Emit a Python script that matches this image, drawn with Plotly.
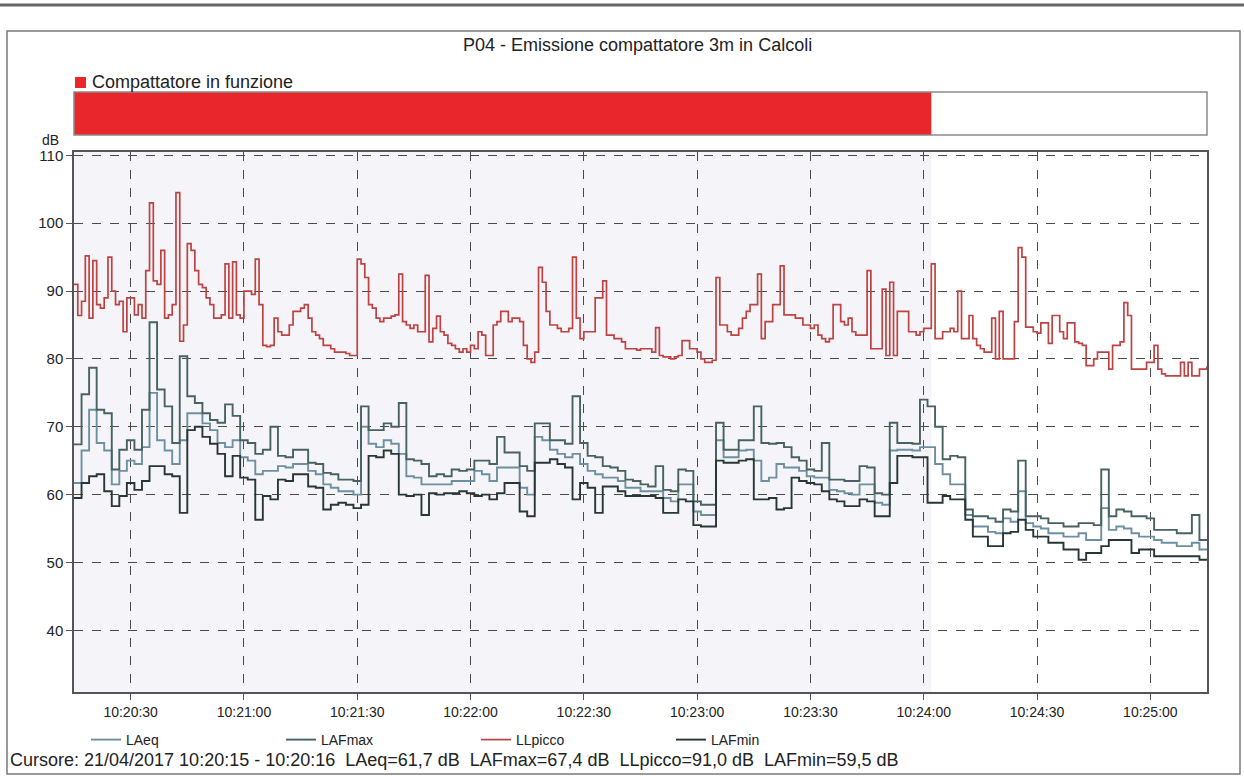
import pandas as pd
import plotly.graph_objects as go

# ---- data -------------------------------------------------------------
DAY = "2017-04-21"
START = f"{DAY} 10:20:15"
END = f"{DAY} 10:25:15"
RUN_START = f"{DAY} 10:20:15"   # compactor running interval
RUN_END = f"{DAY} 10:24:02"

# seconds after 10:20:15
sec_1s = list(range(0, 303))
sec_2s = list(range(0, 303, 2))

llpicco = [
    91.0, 86.4, 88.5, 95.2, 86.0, 94.5, 88.0, 87.5, 89.0, 95.0,
    90.0, 88.0, 88.5, 84.0, 89.0, 89.0, 86.5, 88.0, 86.0, 93.0,
    103.0, 91.5, 91.0, 96.0, 86.0, 86.5, 88.0, 104.5, 82.6, 85.0,
    97.0, 96.0, 93.0, 91.0, 90.5, 89.0, 88.0, 86.0, 86.0, 86.5,
    94.0, 86.0, 94.3, 86.5, 86.0, 90.0, 90.0, 89.5, 94.7, 88.0,
    82.0, 81.8, 82.0, 86.0, 84.0, 83.5, 83.5, 85.0, 87.0, 87.0,
    87.5, 88.0, 86.0, 84.0, 83.5, 83.0, 82.0, 82.0, 81.5, 81.0,
    81.0, 81.0, 80.8, 80.5, 80.5, 94.7, 94.0, 92.0, 88.0, 87.5,
    86.0, 85.5, 86.0, 86.0, 86.3, 86.5, 92.5, 85.5, 85.0, 84.5,
    85.0, 84.0, 84.0, 92.3, 82.5, 84.5, 86.3, 84.0, 83.5, 82.3,
    82.0, 81.5, 81.0, 81.5, 81.0, 82.0, 81.5, 84.0, 83.5, 80.5,
    80.5, 85.0, 85.5, 87.0, 87.0, 85.5, 86.0, 86.0, 85.5, 82.0,
    80.0, 79.5, 81.0, 93.5, 91.3, 87.0, 85.0, 85.0, 84.5, 84.0,
    84.0, 84.5, 95.0, 86.0, 83.0, 84.0, 84.0, 84.0, 89.0, 89.0,
    91.5, 83.5, 83.5, 83.0, 83.0, 82.5, 81.5, 81.5, 81.5, 81.3,
    81.5, 81.5, 81.5, 81.0, 84.6, 80.5, 80.3, 80.3, 80.0, 80.3,
    80.5, 82.7, 82.7, 81.5, 81.5, 81.0, 80.0, 79.5, 79.5, 79.8,
    92.0, 85.0, 85.0, 84.0, 83.5, 83.5, 84.5, 86.0, 87.0, 88.0,
    88.0, 92.5, 83.0, 85.5, 85.5, 88.0, 88.0, 93.7, 86.5, 86.5,
    86.5, 86.0, 86.0, 85.0, 85.0, 84.5, 85.0, 83.5, 83.0, 82.5,
    83.0, 88.0, 88.0, 85.5, 85.0, 86.0, 84.0, 83.5, 83.5, 83.5,
    93.0, 81.5, 81.5, 81.5, 90.3, 80.5, 91.3, 80.5, 87.0, 87.0,
    87.0, 84.0, 84.0, 83.5, 84.0, 84.5, 84.5, 94.0, 83.0, 83.0,
    84.0, 84.0, 84.5, 84.0, 90.0, 83.0, 83.0, 86.4, 83.0, 82.0,
    81.5, 81.0, 81.0, 86.0, 80.0, 87.0, 80.0, 80.0, 80.0, 85.5,
    96.4, 95.0, 84.7, 84.7, 84.0, 83.8, 85.3, 85.3, 82.3, 86.4,
    86.4, 84.0, 83.0, 85.3, 85.3, 82.5, 82.3, 82.0, 79.0, 79.0,
    80.0, 81.0, 81.0, 81.0, 78.5, 82.0, 82.0, 82.5, 88.3, 86.4,
    78.5, 78.5, 78.5, 78.5, 79.5, 79.5, 82.0, 78.5, 77.8, 77.5,
    77.5, 77.5, 77.5, 79.5, 77.5, 79.5, 77.5, 77.5, 78.5, 78.5,
    78.8, 78.5, 78.0,
]

lafmax = [
    67.4, 74.8, 78.7, 72.5, 72.0, 63.7, 66.6, 68.0, 66.6, 72.5,
    85.4, 75.5, 73.0, 67.6, 80.4, 74.5, 73.5, 72.0, 71.0, 70.6,
    73.3, 71.6, 68.0, 67.6, 66.0, 66.6, 70.0, 65.7, 65.5, 66.6,
    66.6, 64.7, 64.5, 63.2, 63.0, 62.2, 62.2, 62.0, 73.0, 69.5,
    69.5, 70.5, 70.0, 73.5, 65.2, 65.0, 64.5, 62.7, 63.0, 62.7,
    63.7, 63.5, 63.7, 65.0, 65.0, 64.5, 68.5, 66.2, 66.2, 64.2,
    63.5, 70.5, 70.5, 68.0, 68.0, 67.5, 74.5, 67.6, 65.7, 65.5,
    64.2, 64.0, 63.5, 62.2, 62.0, 61.5, 61.2, 64.2, 60.7, 60.5,
    63.7, 63.5, 59.0, 58.5, 58.5, 70.6, 66.6, 66.6, 68.0, 68.0,
    73.0, 67.6, 67.5, 67.6, 67.0, 65.5, 65.0, 63.7, 63.5, 67.6,
    62.2, 62.2, 62.0, 62.0, 64.2, 64.0, 60.2, 60.0, 70.6, 67.6,
    67.6, 67.5, 74.0, 73.0, 70.0, 65.2, 65.7, 65.5, 57.8, 56.8,
    56.8, 56.5, 56.0, 57.8, 57.5, 65.0, 56.8, 56.8, 56.5, 55.8,
    55.8, 55.3, 55.3, 55.8, 55.8, 55.5, 63.7, 56.8, 57.8, 57.5,
    56.8, 56.8, 56.5, 54.8, 54.8, 54.8, 54.3, 54.3, 57.0, 53.3,
    53.3, 53.0,
]

laeq = [
    61.7, 66.5, 72.5, 67.6, 66.5, 61.5, 63.5, 65.0, 64.5, 67.0,
    75.0, 68.0, 66.5, 64.5, 68.0, 72.0, 72.0, 70.5, 69.5, 67.6,
    67.0, 68.0, 65.5, 65.0, 63.0, 63.5, 63.5, 64.2, 64.0, 64.5,
    64.5, 63.5, 63.0, 61.5, 61.0, 60.5, 60.5, 60.0, 70.0, 67.5,
    67.0, 68.0, 67.5, 66.0, 62.7, 62.5, 61.5, 61.5, 61.5, 61.5,
    62.0, 62.0, 62.0, 63.5, 63.0, 62.0, 64.0, 64.0, 64.0, 61.0,
    60.0, 68.5, 68.0, 66.6, 66.0, 65.5, 66.0, 64.5, 63.5, 63.0,
    62.5, 62.5, 62.0, 61.0, 61.0, 60.5, 60.5, 60.5, 59.5, 59.0,
    61.5, 61.5, 57.5, 57.0, 57.0, 68.0, 65.5, 65.5, 66.5, 66.6,
    65.0, 62.0, 62.5, 64.5, 64.0, 64.0, 63.5, 62.7, 62.5, 62.5,
    60.7, 60.5, 60.2, 60.0, 61.5, 61.5, 58.8, 58.5, 66.5, 66.6,
    66.6, 66.5, 67.0, 67.0, 64.5, 63.0, 61.5, 61.5, 57.0, 55.3,
    55.3, 54.5, 54.3, 56.5, 56.0, 60.5, 55.8, 55.3, 55.0, 54.3,
    54.3, 53.8, 53.8, 54.3, 53.3, 53.3, 58.0, 54.8, 55.3, 55.0,
    54.3, 53.8, 53.8, 53.3, 52.9, 52.9, 52.4, 52.4, 52.9, 51.9,
    51.9, 51.9,
]

lafmin = [
    59.5, 61.7, 62.7, 63.0, 60.5, 58.3, 59.8, 61.7, 60.7, 62.0,
    64.2, 64.2, 63.0, 62.7, 57.3, 69.5, 70.0, 68.5, 67.5, 66.0,
    62.7, 65.7, 62.5, 62.2, 56.3, 59.8, 59.3, 62.2, 62.0, 63.0,
    63.0, 61.2, 61.0, 57.8, 58.5, 58.8, 58.5, 58.0, 58.5, 65.7,
    65.5, 66.5, 66.0, 60.0, 59.8, 60.0, 57.0, 60.2, 60.0, 60.2,
    60.2, 60.5, 60.2, 59.8, 60.0, 59.3, 60.2, 61.7, 61.7, 57.5,
    56.8, 64.7, 64.7, 65.2, 64.5, 64.0, 59.3, 61.7, 61.0, 57.3,
    61.2, 61.2, 60.5, 59.8, 59.8, 59.8, 59.8, 59.5, 57.3, 57.3,
    59.3, 59.0, 55.5, 55.3, 55.3, 65.0, 64.7, 64.7, 65.0, 65.2,
    59.3, 59.3, 59.5, 57.8, 58.0, 62.5, 62.0, 61.7, 61.5, 60.5,
    59.3, 59.0, 58.3, 58.3, 59.3, 59.0, 56.8, 56.8, 61.7, 65.7,
    65.7, 65.5, 65.5, 58.8, 58.8, 59.8, 59.3, 59.3, 56.3, 53.8,
    53.8, 52.4, 52.4, 54.3, 54.5, 56.3, 54.8, 53.8, 53.8, 52.9,
    52.9, 51.9, 51.9, 50.4, 51.4, 51.4, 52.4, 53.3, 53.3, 53.3,
    51.4, 51.9, 51.9, 50.9, 50.9, 50.9, 50.9, 50.9, 50.9, 50.4,
    50.4, 50.4,
]

tick_labels = ["10:20:30", "10:21:00", "10:21:30", "10:22:00", "10:22:30",
               "10:23:00", "10:23:30", "10:24:00", "10:24:30", "10:25:00"]
y_ticks = [40, 50, 60, 70, 80, 90, 100, 110]

# ---- helpers -----------------------------------------------------------
t0 = pd.Timestamp(START)
times_1s = [t0 + pd.Timedelta(seconds=s) for s in sec_1s]
times_2s = [t0 + pd.Timedelta(seconds=s) for s in sec_2s]
tick_vals = [f"{DAY} {s}" for s in tick_labels]

FONT = "Liberation Sans, Arial, sans-serif"
TXT = "#222222"

# plot area in pixels: left 74, right 1207, top 92, bottom 692
W, H = 1244, 776
L, R, T, B = 74, 37, 92, 84
PW, PH = W - L - R, H - T - B


def px(x):
    return (x - L) / PW


def py(y):
    return (H - B - y) / PH


fig = go.Figure()

# compactor-running bar (own x axis so no grid crosses it)
fig.add_trace(go.Scatter(
    x=[RUN_START, RUN_END, RUN_END, RUN_START, RUN_START],
    y=[0, 0, 1, 1, 0],
    fill="toself", fillcolor="#e8262b", mode="lines",
    line=dict(width=0), xaxis="x2", yaxis="y2",
    showlegend=False, hoverinfo="skip",
))

line_specs = [
    ("LAeq", times_2s, laeq, "#6d90a0", 1.9),
    ("LAFmax", times_2s, lafmax, "#476260", 1.9),
    ("LLpicco", times_1s, llpicco, "#bf4242", 1.7),
    ("LAFmin", times_2s, lafmin, "#293636", 1.9),
]
for name, xs, ys, color, w in line_specs:
    fig.add_trace(go.Scatter(
        x=xs, y=ys, name=name, mode="lines",
        line=dict(color=color, width=w, shape="hv"),
    ))

axis_common = dict(
    showgrid=True, gridcolor="#4a4a4a", gridwidth=1, griddash="dash",
    showline=True, mirror=True, linecolor="#555555", linewidth=1.5,
    ticks="outside", ticklen=6, tickcolor="#555555",
    zeroline=False,
)

fig.update_layout(
    width=W, height=H,
    margin=dict(l=L, r=R, t=T, b=B),
    paper_bgcolor="white", plot_bgcolor="white",
    font=dict(family=FONT, size=14, color=TXT),
    xaxis=dict(type="date", range=[START, END],
               tickvals=tick_vals, ticktext=tick_labels,
               tickfont=dict(family=FONT, size=14, color=TXT), **axis_common),
    yaxis=dict(domain=[0, py(152)], range=[30.9, 110.5],
               tickvals=y_ticks,
               tickfont=dict(family=FONT, size=15, color=TXT), **axis_common),
    xaxis2=dict(type="date", range=[START, END], matches="x",
                anchor="y2", visible=False, showgrid=False),
    yaxis2=dict(domain=[py(135), 1.0], range=[0, 1], visible=False,
                anchor="x2", fixedrange=True, showgrid=False),
    showlegend=True,
    legend=dict(orientation="h", x=px(86), xanchor="left",
                y=py(740), yanchor="middle",
                entrywidth=150, entrywidthmode="pixels",
                bgcolor="rgba(0,0,0,0)",
                font=dict(family=FONT, size=14, color=TXT)),
)

shapes = [
    # shaded running interval behind the curves
    dict(type="rect", xref="x", yref="y domain", x0=RUN_START, x1=RUN_END,
         y0=0, y1=1, fillcolor="#f5f5f9", line=dict(width=0), layer="below"),
    # outline of the running bar
    dict(type="rect", xref="x2 domain", yref="y2 domain", x0=0, x1=1,
         y0=0, y1=1, line=dict(color="#8a8a8a", width=1.5)),
    # small legend square of the running bar
    dict(type="rect", xref="paper", yref="paper", x0=px(75), x1=px(86),
         y0=py(88), y1=py(77), fillcolor="#e8262b", line=dict(width=0)),
    # page frame
    dict(type="rect", xref="paper", yref="paper", x0=px(7), x1=px(1240),
         y0=py(774), y1=py(31), line=dict(color="#7a7a7a", width=1.5)),
    dict(type="line", xref="paper", yref="paper", x0=px(0), x1=px(1244),
         y0=py(5), y1=py(5), line=dict(color="#666666", width=3)),
]
fig.update_layout(shapes=shapes)

annotations = [
    dict(text="P04 - Emissione compattatore 3m in Calcoli",
         x=px(637), y=py(45), xanchor="center", yanchor="middle", size=18),
    dict(text="Compattatore in funzione",
         x=px(90), y=py(82), xanchor="left", yanchor="middle", size=18),
    dict(text="dB", x=px(50), y=py(140), xanchor="center", yanchor="middle",
         size=14),
    dict(text="Cursore: 21/04/2017 10:20:15 - 10:20:16  LAeq=61,7 dB  "
              "LAFmax=67,4 dB  LLpicco=91,0 dB  LAFmin=59,5 dB",
         x=px(8), y=py(760), xanchor="left", yanchor="middle", size=18),
]
for a in annotations:
    size = a.pop("size")
    a.update(xref="paper", yref="paper", showarrow=False,
             font=dict(family=FONT, size=size, color=TXT))
fig.update_layout(annotations=annotations)

fig.write_html("out.html")
